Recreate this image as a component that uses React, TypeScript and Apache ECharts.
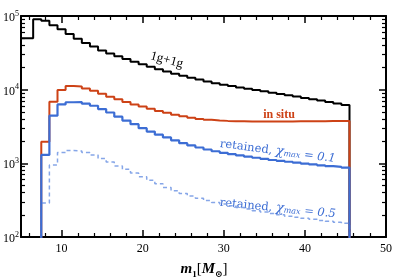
import React, { useEffect, useRef } from "react";
import * as echarts from "echarts";

// Bin edges (width 1 in m1)
const blackFirstEdge = 4.5;
const colorFirstEdge = 7.5;
const binWidth = 1;

// 1g+1g
const blackValues = [49800, 49800, 90000, 86000, 75000, 66000, 57000, 49000, 43000, 38500, 34000, 31000, 28500, 26000, 24000, 22200, 20500, 19000, 17700, 16500, 15500, 14500, 13700, 12900, 12200, 11700, 11200, 10700, 10300, 9900, 9500, 9100, 8750, 8400, 8050, 7700, 7400, 7100, 6800, 6500, 6200];
// in situ
const redValues = [1970, 6870, 9900, 11200, 11000, 10400, 9700, 8800, 8000, 7400, 6800, 6300, 5900, 5500, 5150, 4850, 4550, 4350, 4150, 4000, 3900, 3820, 3770, 3740, 3720, 3700, 3700, 3700, 3700, 3700, 3710, 3720, 3720, 3730, 3740, 3750, 3750, 3760];
// retained, chi_max = 0.1
const blueValues = [1300, 4440, 6300, 6750, 6800, 6450, 6050, 5450, 4900, 4300, 3800, 3400, 3000, 2700, 2450, 2250, 2050, 1880, 1750, 1640, 1540, 1460, 1390, 1330, 1280, 1230, 1190, 1150, 1110, 1080, 1050, 1020, 990, 965, 940, 915, 895, 875];
// retained, chi_max = 0.5
const dashedValues = [290, 950, 1400, 1490, 1470, 1400, 1300, 1160, 1040, 920, 830, 740, 660, 590, 530, 470, 425, 390, 360, 335, 312, 295, 280, 265, 252, 240, 228, 218, 208, 200, 192, 186, 180, 174, 168, 163, 158, 154];

const xMajorTicks = [10, 20, 30, 40, 50];
const xMinorTicks = [6, 8, 12, 14, 16, 18, 22, 24, 26, 28, 32, 34, 36, 38, 42, 44, 46, 48];
const yMin = 100;
const yMax = 100000;

const SERIF = "'Liberation Serif', 'DejaVu Serif', serif";
const WIDE_SERIF = "'DejaVu Serif', 'Liberation Serif', serif";
const RED = "#cd4216";
const BLUE = "#3c6dd4";

function stairs(firstEdge: number, values: number[]) {
  const pts: number[][] = [];
  pts.push([firstEdge, 1]);
  values.forEach((v, i) => pts.push([firstEdge + i * binWidth, v]));
  const lastEdge = firstEdge + values.length * binWidth;
  pts.push([lastEdge, values[values.length - 1]]);
  pts.push([lastEdge, 1]);
  return pts;
}

const yMinorLog: number[] = [];
for (let e = 2; e < 5; e++) for (let m = 2; m <= 9; m++) yMinorLog.push(Math.log10(m * Math.pow(10, e)));

function retainedLabel(val: string, x: number, y: number, rot: number) {
  return {
    type: "text", x, y, rotation: rot,
    style: {
      text: `{a|retained, }{c|χ}{s|max}{a| = }{d|${val}}`,
      align: "center", verticalAlign: "middle",
      rich: {
        a: { font: `11.5px ${WIDE_SERIF}`, fill: BLUE, lineHeight: 15, verticalAlign: "bottom" },
        d: { font: `italic 11.5px ${WIDE_SERIF}`, fill: BLUE, lineHeight: 15, verticalAlign: "bottom" },
        c: { font: `italic 13px ${WIDE_SERIF}`, fill: BLUE, lineHeight: 15, verticalAlign: "bottom" },
        s: { font: `italic 8px ${WIDE_SERIF}`, fill: BLUE, lineHeight: 13, verticalAlign: "bottom" },
      },
    },
  };
}

export default function App() {
  const ref = useRef<HTMLDivElement>(null);
  useEffect(() => {
    if (!ref.current) return;
    const chart = echarts.init(ref.current, undefined, { renderer: "svg" });
    const axisColor = "#000";
    const xBase = {
      type: "value" as const,
      min: 5,
      max: 50,
      splitLine: { show: false },
    };
    const yLogMinorBase = {
      type: "value" as const,
      min: 2,
      max: 5,
      splitLine: { show: false },
      axisLine: { show: false },
      axisLabel: { show: false },
      axisTick: { show: true, inside: true, length: 4, customValues: yMinorLog, lineStyle: { color: axisColor, width: 1.2 } },
    };
    chart.setOption({
      animation: false,
      grid: { left: 21, right: 7, top: 16, bottom: 43 },
      xAxis: [
        {
          ...xBase,
          position: "bottom",
          axisLine: { show: true, lineStyle: { color: axisColor, width: 2 } },
          axisTick: { show: true, inside: true, length: 7, customValues: xMajorTicks, lineStyle: { color: axisColor, width: 1.5 } },
          axisLabel: { show: true, customValues: xMajorTicks, color: "#000", fontFamily: SERIF, fontSize: 12, margin: 5 },
        },
        {
          ...xBase,
          position: "bottom",
          axisLine: { show: false },
          axisTick: { show: true, inside: true, length: 4, customValues: xMinorTicks, lineStyle: { color: axisColor, width: 1.2 } },
          axisLabel: { show: false },
        },
        {
          ...xBase,
          position: "top",
          axisLine: { show: true, lineStyle: { color: axisColor, width: 2 } },
          axisTick: { show: true, inside: true, length: 7, customValues: xMajorTicks, lineStyle: { color: axisColor, width: 1.5 } },
          axisLabel: { show: false },
        },
        {
          ...xBase,
          position: "top",
          axisLine: { show: false },
          axisTick: { show: true, inside: true, length: 4, customValues: xMinorTicks, lineStyle: { color: axisColor, width: 1.2 } },
          axisLabel: { show: false },
        },
      ],
      yAxis: [
        {
          type: "log",
          logBase: 10,
          min: yMin,
          max: yMax,
          position: "left",
          splitLine: { show: false },
          axisLine: { show: true, lineStyle: { color: axisColor, width: 2 } },
          axisTick: { show: true, inside: true, length: 7, lineStyle: { color: axisColor, width: 1.5 } },
          axisLabel: {
            show: true,
            margin: 2,
            formatter: (v: number) => `{b|10}{e|${Math.round(Math.log10(v))}}`,
            rich: {
              b: { fontFamily: SERIF, fontSize: 12, color: "#000", lineHeight: 14, verticalAlign: "bottom" },
              e: { fontFamily: SERIF, fontSize: 8, color: "#000", lineHeight: 8, verticalAlign: "top" },
            },
          },
        },
        { ...yLogMinorBase, position: "left" },
        {
          type: "log",
          logBase: 10,
          min: yMin,
          max: yMax,
          position: "right",
          splitLine: { show: false },
          axisLine: { show: true, lineStyle: { color: axisColor, width: 2 } },
          axisTick: { show: true, inside: true, length: 7, lineStyle: { color: axisColor, width: 1.5 } },
          axisLabel: { show: false },
        },
        { ...yLogMinorBase, position: "right" },
      ],
      series: [
        {
          type: "line", xAxisIndex: 0, yAxisIndex: 0, step: "end", symbol: "none",
          data: stairs(blackFirstEdge, blackValues),
          lineStyle: { color: "#000", width: 2 },
        },
        {
          type: "line", xAxisIndex: 0, yAxisIndex: 0, step: "end", symbol: "none",
          data: stairs(colorFirstEdge, redValues),
          lineStyle: { color: RED, width: 2 },
        },
        {
          type: "line", xAxisIndex: 0, yAxisIndex: 0, step: "end", symbol: "none",
          data: stairs(colorFirstEdge, dashedValues),
          lineStyle: { color: "#86a6e8", width: 1.5, type: [4, 3] },
        },
        {
          type: "line", xAxisIndex: 0, yAxisIndex: 0, step: "end", symbol: "none",
          data: stairs(colorFirstEdge, blueValues),
          lineStyle: { color: BLUE, width: 2.2 },
        },
      ],
      graphic: [
        {
          type: "text", x: 167, y: 59, rotation: -0.26,
          style: { text: "1g+1g", font: `13px ${SERIF}`, fill: "#000", align: "center", verticalAlign: "middle" },
        },
        {
          type: "text", x: 279, y: 114,
          style: { text: "in situ", font: `bold 12px ${SERIF}`, fill: RED, align: "center", verticalAlign: "middle" },
        },
        retainedLabel("0.1", 278, 149, -0.13),
        retainedLabel("0.5", 278, 206, -0.1),
        {
          type: "text", x: 204, y: 269,
          style: {
            text: "{m|m}{s|1}{r|[}{m|M}{s|⊙}{r|]}",
            align: "center", verticalAlign: "middle",
            rich: {
              m: { font: `italic bold 15px ${SERIF}`, fill: "#000", lineHeight: 18, verticalAlign: "top" },
              s: { font: `bold 9px ${SERIF}`, fill: "#000", lineHeight: 18, verticalAlign: "bottom" },
              r: { font: `15px ${SERIF}`, fill: "#000", lineHeight: 18, verticalAlign: "top" },
            },
          },
        },
      ],
    });
    return () => chart.dispose();
  }, []);
  return <div ref={ref} style={{ position: "fixed", left: 0, top: 0, width: 395, height: 280 }} />;
}
